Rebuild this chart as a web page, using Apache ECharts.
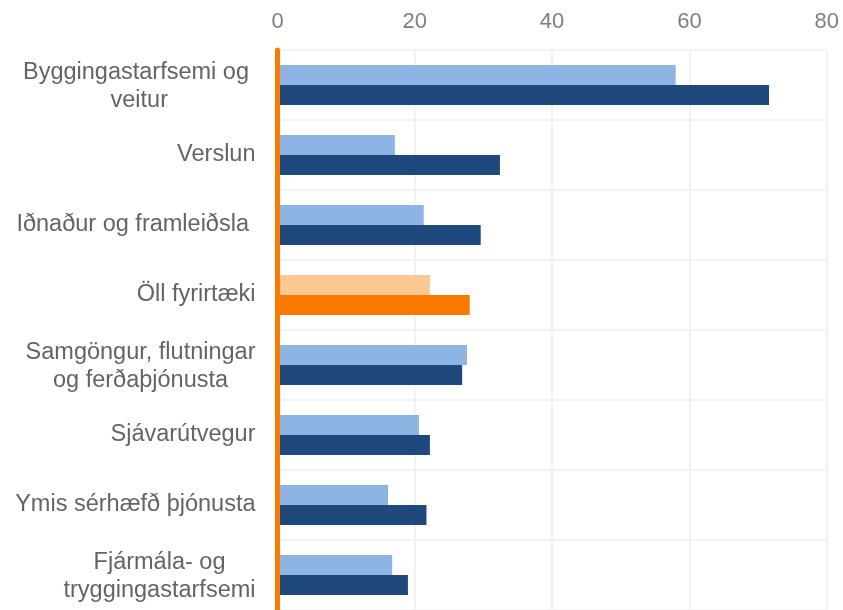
<!DOCTYPE html>
<html>
<head>
<meta charset="utf-8">
<script src="https://cdn.jsdelivr.net/npm/echarts@6/dist/echarts.min.js"></script>
<style>
  html, body { margin: 0; padding: 0; background: #fff; }
  #chart { width: 843px; height: 610px; }
</style>
</head>
<body>
<div id="chart"></div>
<script>
// flokkar (efst til neðst)
var categories = [
  'Byggingastarfsemi og \nveitur',
  'Verslun',
  'Iðnaður og framleiðsla ',
  'Öll fyrirtæki',
  'Samgöngur, flutningar\nog ferðaþjónusta',
  'Sjávarútvegur',
  'Ymis sérhæfð þjónusta',
  'Fjármála- og\ntryggingastarfsemi'
];
var lightValues = [58.0, 17.1, 21.3, 22.2, 27.6, 20.6, 16.1, 16.7];
var darkValues  = [71.6, 32.4, 29.6, 28.0, 26.9, 22.2, 21.7, 19.0];
var tickValues  = [0, 20, 40, 60, 80];
var highlightName = 'Öll fyrirtæki';

var colors = {
  light: '#8eb4e3',
  dark: '#1f497d',
  lightHi: '#fec894',
  darkHi: '#fa7a00'
};

function buildData(values, normal, hi) {
  return values.map(function (v, i) {
    var isHi = categories[i] === highlightName;
    return { value: v, itemStyle: { color: isHi ? hi : normal } };
  });
}

var labelFont = 'Liberation Sans, Arial, sans-serif';

var myChart = echarts.init(document.getElementById('chart'));
var option = {
  animation: false,
  grid: {
    left: 277.5,
    right: 16.3,
    top: 50,
    bottom: 0
  },
  xAxis: {
    type: 'value',
    position: 'top',
    min: tickValues[0],
    max: tickValues[tickValues.length - 1],
    interval: 20,
    axisLine: { show: false },
    axisTick: { show: false },
    axisLabel: {
      margin: 17,
      color: '#7f7f7f',
      fontFamily: labelFont,
      fontSize: 22
    },
    splitLine: { lineStyle: { color: '#f2f2f2', width: 2 } }
  },
  yAxis: {
    type: 'category',
    inverse: true,
    data: categories,
    z: 5,
    axisLine: { show: true, lineStyle: { color: '#fa7a00', width: 5 } },
    axisTick: { show: false },
    splitLine: { show: true, interval: 0, lineStyle: { color: '#f2f2f2', width: 2 } },
    axisLabel: {
      interval: 0,
      margin: 22,
      formatter: function (val) {
        var lines = val.split('\n');
        if (lines.length === 1) return '{c|' + val + '}';
        // fyrsta línan fær auka bil ofan við svo textinn færist aðeins niður
        return lines.map(function (l, i) {
          return (i === 0 ? '{m|' : '{c|') + l + '}';
        }).join('\n');
      },
      rich: {
        c: {
          align: 'center',
          color: '#646464',
          fontFamily: labelFont,
          fontSize: 23.5,
          lineHeight: 31
        },
        m: {
          align: 'center',
          color: '#646464',
          fontFamily: labelFont,
          fontSize: 23.5,
          lineHeight: 31,
          padding: [6, 0, 0, 0]
        }
      }
    }
  },
  series: [
    {
      type: 'bar',
      barWidth: 20,
      barGap: '0%',
      data: buildData(lightValues, colors.light, colors.lightHi)
    },
    {
      type: 'bar',
      barWidth: 20,
      barGap: '0%',
      data: buildData(darkValues, colors.dark, colors.darkHi)
    }
  ]
};
myChart.setOption(option);
</script>
</body>
</html>
